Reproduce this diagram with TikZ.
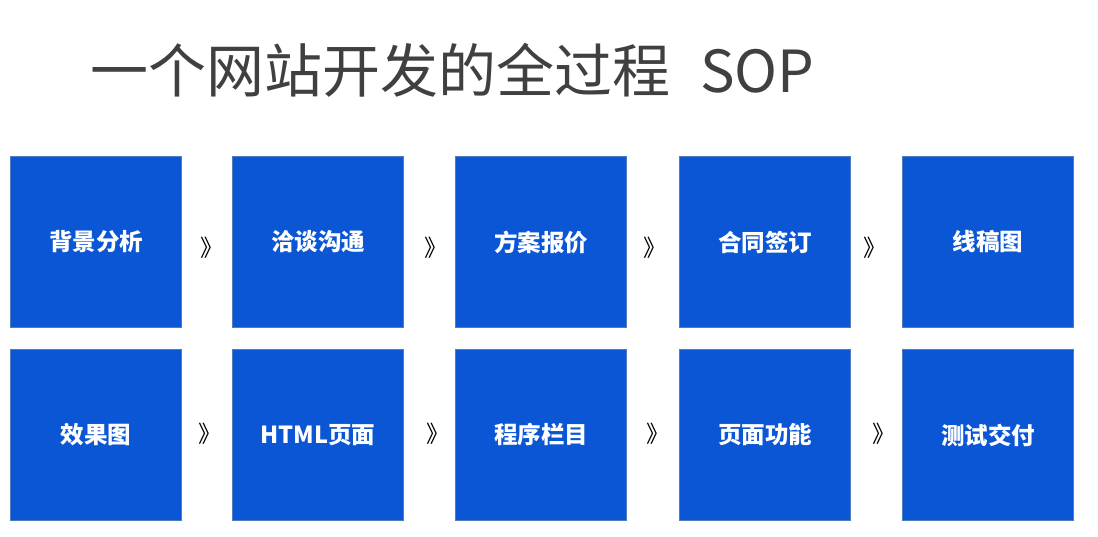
\documentclass[tikz,border=0pt]{standalone}
\usepackage{fontspec}
\setmainfont{Noto Sans CJK SC}
\newfontfamily\cjk{Noto Sans CJK SC}
\definecolor{boxblue}{RGB}{10,86,212}
\definecolor{boxedge}{RGB}{80,125,190}
\definecolor{titlegray}{RGB}{64,64,64}
\begin{document}
\begin{tikzpicture}[x=1pt,y=-1pt,
  stepbox/.style={draw=boxedge,line width=1pt,fill=boxblue,minimum width=171pt,minimum height=171pt,inner sep=0pt,anchor=north west,text=white,font=\cjk\bfseries\fontsize{23.5}{28}\selectfont},
  chev/.style={inner sep=0pt,text=black,font=\cjk\fontsize{23}{26}\selectfont}]
\useasboundingbox[fill=white] (0,0) rectangle (1098,537);
\node[anchor=base west,inner sep=0pt,text=titlegray,font=\cjk\fontsize{58}{64}\selectfont] (title) at (90,93) {一个网站开发的全过程\hspace{30pt}SOP};
% row 1
\node[stepbox] (a1) at (10,156) {背景分析};
\node[stepbox] (a2) at (232,156) {洽谈沟通};
\node[stepbox] (a3) at (455,156) {方案报价};
\node[stepbox] (a4) at (679,156) {合同签订};
\node[stepbox] (a5) at (902,156) {线稿图};
% row 2
\node[stepbox] (b1) at (10,349) {效果图};
\node[stepbox] (b2) at (232,349) {HTML页面};
\node[stepbox] (b3) at (455,349) {程序栏目};
\node[stepbox] (b4) at (679,349) {页面功能};
\node[stepbox] (b5) at (902,349) {测试交付};
% chevrons
\node[chev] (c1) at (212,248) {》};
\node[chev] (c2) at (436,248) {》};
\node[chev] (c3) at (655,248) {》};
\node[chev] (c4) at (875,248) {》};
\node[chev] (d1) at (210,434) {》};
\node[chev] (d2) at (438,434) {》};
\node[chev] (d3) at (658,434) {》};
\node[chev] (d4) at (884,434) {》};
\end{tikzpicture}
\end{document}
